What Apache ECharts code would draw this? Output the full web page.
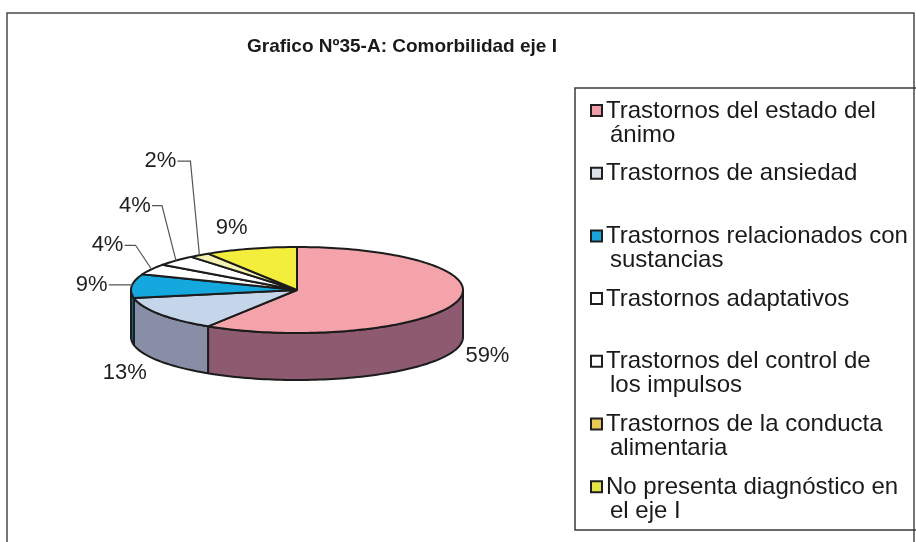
<!DOCTYPE html>
<html>
<head>
<meta charset="utf-8">
<script src="https://cdn.jsdelivr.net/npm/echarts@6/dist/echarts.min.js"></script>
<style>
  html, body { margin: 0; padding: 0; background: #ffffff; }
  #chart { width: 916px; height: 542px; }
</style>
</head>
<body>
<div id="chart"></div>
<script>
// Categories of axis-I comorbidity and their share of cases (%)
const categories = [
  'Trastornos del estado del ánimo',
  'Trastornos de ansiedad',
  'Trastornos relacionados con sustancias',
  'Trastornos adaptativos',
  'Trastornos del control de los impulsos',
  'Trastornos de la conducta alimentaria',
  'No presenta diagnóstico en el eje I'
];
const legendLines = [
  ['Trastornos del estado del', 'ánimo'],
  ['Trastornos de ansiedad'],
  ['Trastornos relacionados con', 'sustancias'],
  ['Trastornos adaptativos'],
  ['Trastornos del control de', 'los impulsos'],
  ['Trastornos de la conducta', 'alimentaria'],
  ['No presenta diagnóstico en', 'el eje I']
];
const values = [59, 13, 9, 4, 4, 2, 9];

// Slice colours: top face, outer wall, legend key
const topColors = ['#F4A3AB', '#C6D6EA', '#14A8DE', '#FFFFFF', '#FFFFFF', '#F6F2B4', '#F3EE3C'];
const sideColors = ['#8D5A6F', '#878EA5', '#0C6C90', '#A8A8A8', '#A8A8A8', '#A8A690', '#A09C28'];
const legendColors = ['#EE9CA8', '#DDE1EA', '#1AA6DA', '#FFFFFF', '#FFFFFF', '#E6C95A', '#E4E648'];

// Label placement relative to the rim point at each slice's mid-angle,
// plus the x offset (from the rim point) of the leader elbow, if any
const labelDx = [31, -35, -40, -44, -41, -39, -19];
const labelDy = [54, 59, -1, -24, -55, -94, -21];
const leaderElbowDx = [null, null, 0, -16, -14, -9, null];

// Pie geometry (tilted disc)
const CX = 297, CY = 290, RX = 166, RY = 43, DEPTH = 47;

const total = values.reduce((s, v) => s + v, 0);
const startAngles = [];
const endAngles = [];
values.reduce((acc, v, i) => {
  startAngles[i] = acc / total * 360;
  endAngles[i] = (acc + v) / total * 360;
  return acc + v;
}, 0);
const pieData = values.map((v, i) => ({ name: categories[i], value: [v, startAngles[i], endAngles[i]] }));

// angle measured clockwise from 12 o'clock
function rimPoint(t, dy) {
  const r = t * Math.PI / 180;
  return [CX + RX * Math.sin(r), CY - RY * Math.cos(r) + (dy || 0)];
}
function arcPoints(a, b, dy) {
  const pts = [];
  const n = Math.max(2, Math.ceil((b - a) / 1.5));
  for (let k = 0; k <= n; k++) pts.push(rimPoint(a + (b - a) * k / n, dy));
  return pts;
}

const EDGE = '#1c1c1c';

const chart = echarts.init(document.getElementById('chart'), null, { renderer: 'canvas' });

// Legend built from the category list
const legendElements = [];
const LEG_X = 591, LEG_Y0 = 111, LEG_STEP = 62.7, LINE_H = 24;
legendLines.forEach((lines, i) => {
  const y = LEG_Y0 + i * LEG_STEP;
  legendElements.push({
    type: 'rect',
    z: 5,
    shape: { x: LEG_X, y: y - 6, width: 11, height: 11 },
    style: { fill: legendColors[i], stroke: '#1e1e1e', lineWidth: 2 }
  });
  lines.forEach((ln, k) => {
    legendElements.push({
      type: 'text',
      z: 5,
      x: k === 0 ? 606 : 610,
      y: y + k * LINE_H,
      style: {
        text: ln,
        font: '24px "Liberation Sans", Arial, sans-serif',
        fill: '#1a1a1a',
        verticalAlign: 'middle',
        align: 'left'
      }
    });
  });
});

const option = {
  animation: false,
  backgroundColor: '#ffffff',
  title: {
    text: 'Grafico Nº35-A: Comorbilidad eje I',
    left: 247,
    top: 37,
    padding: 0,
    textStyle: {
      fontFamily: '"Liberation Sans", Arial, sans-serif',
      fontWeight: 'bold',
      fontSize: 19,
      color: '#1a1a1a'
    }
  },
  graphic: [
    {
      type: 'rect',
      z: 0,
      shape: { x: 7, y: 13, width: 907, height: 560 },
      style: { fill: 'none', stroke: '#4a4a4a', lineWidth: 1.5 }
    },
    {
      type: 'rect',
      z: 1,
      shape: { x: 575, y: 88, width: 360, height: 442 },
      style: { fill: 'none', stroke: '#3a3a3a', lineWidth: 1.5 }
    }
  ].concat(legendElements),
  series: [
    {
      // outer walls of the front half
      type: 'custom',
      coordinateSystem: 'none',
      z: 2,
      data: pieData,
      renderItem: function (params, api) {
        const i = params.dataIndex;
        const s = Math.max(api.value(1), 90);
        const e = Math.min(api.value(2), 270);
        if (e <= s) return { type: 'group', children: [] };
        const pts = arcPoints(s, e, 0).concat(arcPoints(s, e, DEPTH).reverse());
        return {
          type: 'polygon',
          shape: { points: pts },
          style: { fill: sideColors[i], stroke: EDGE, lineWidth: 2, lineJoin: 'round' }
        };
      }
    },
    {
      // top faces
      type: 'custom',
      coordinateSystem: 'none',
      z: 3,
      data: pieData,
      renderItem: function (params, api) {
        const i = params.dataIndex;
        const a = api.value(1), b = api.value(2);
        const pts = [[CX, CY]].concat(arcPoints(a, b, 0));
        return {
          type: 'polygon',
          shape: { points: pts },
          style: { fill: topColors[i], stroke: EDGE, lineWidth: 2, lineJoin: 'round' }
        };
      }
    },
    {
      // percentage labels with leader lines
      type: 'custom',
      coordinateSystem: 'none',
      z: 4,
      data: pieData,
      renderItem: function (params, api) {
        const i = params.dataIndex;
        const v = api.value(0);
        const mid = (api.value(1) + api.value(2)) / 2;
        const anchor = rimPoint(mid, 0);
        const tx = anchor[0] + labelDx[i];
        const ty = anchor[1] + labelDy[i];
        const children = [{
          type: 'text',
          x: tx,
          y: ty,
          style: {
            text: Math.round(v / total * 100) + '%',
            font: '22px "Liberation Sans", Arial, sans-serif',
            fill: '#1f1f1f',
            align: 'center',
            verticalAlign: 'middle'
          }
        }];
        if (leaderElbowDx[i] !== null) {
          const startX = tx + 17;
          const elbow = [anchor[0] + leaderElbowDx[i], ty];
          children.push({
            type: 'polyline',
            shape: { points: [[startX, ty], elbow, anchor] },
            style: { stroke: '#555', lineWidth: 1.2, fill: 'none' }
          });
        }
        return { type: 'group', children: children };
      }
    }
  ]
};

chart.setOption(option);
</script>
</body>
</html>
